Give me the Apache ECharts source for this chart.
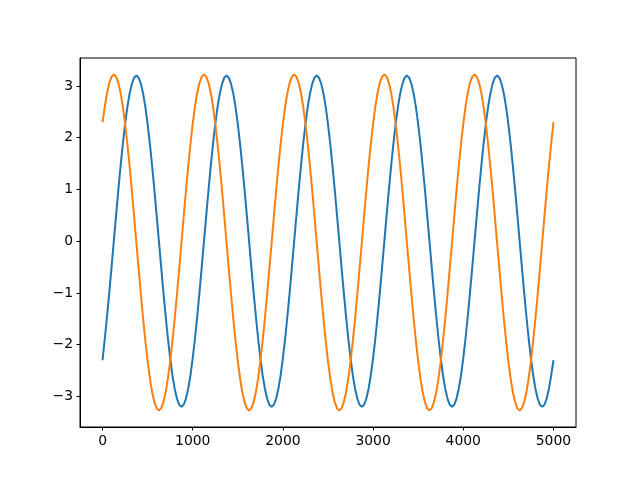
<!DOCTYPE html>
<html>
<head>
<meta charset="utf-8">
<script src="https://cdn.jsdelivr.net/npm/echarts@6/dist/echarts.min.js"></script>
<style>html,body{margin:0;padding:0;background:#fff}#c{width:640px;height:480px}</style>
</head>
<body>
<div id="c"></div>
<script>
// sample positions: x = xStart + i * xStep
const xStart = 0;
const xStep = 25;
const xTicks = [0, 1000, 2000, 3000, 4000, 5000];
const yTicks = [-3, -2, -1, 0, 1, 2, 3];

const blueValues = [
-2.30,-1.88,-1.45,-0.99,-0.50,0.00,0.50,0.99,1.45,1.88,2.26,2.59,2.85,3.04,3.16,3.20,3.16,3.04,2.85,2.59,
2.26,1.88,1.45,0.99,0.50,0.00,-0.50,-0.99,-1.45,-1.88,-2.26,-2.59,-2.85,-3.04,-3.16,-3.20,-3.16,-3.04,-2.85,-2.59,
-2.26,-1.88,-1.45,-0.99,-0.50,0.00,0.50,0.99,1.45,1.88,2.26,2.59,2.85,3.04,3.16,3.20,3.16,3.04,2.85,2.59,
2.26,1.88,1.45,0.99,0.50,0.00,-0.50,-0.99,-1.45,-1.88,-2.26,-2.59,-2.85,-3.04,-3.16,-3.20,-3.16,-3.04,-2.85,-2.59,
-2.26,-1.88,-1.45,-0.99,-0.50,0.00,0.50,0.99,1.45,1.88,2.26,2.59,2.85,3.04,3.16,3.20,3.16,3.04,2.85,2.59,
2.26,1.88,1.45,0.99,0.50,0.00,-0.50,-0.99,-1.45,-1.88,-2.26,-2.59,-2.85,-3.04,-3.16,-3.20,-3.16,-3.04,-2.85,-2.59,
-2.26,-1.88,-1.45,-0.99,-0.50,0.00,0.50,0.99,1.45,1.88,2.26,2.59,2.85,3.04,3.16,3.20,3.16,3.04,2.85,2.59,
2.26,1.88,1.45,0.99,0.50,0.00,-0.50,-0.99,-1.45,-1.88,-2.26,-2.59,-2.85,-3.04,-3.16,-3.20,-3.16,-3.04,-2.85,-2.59,
-2.26,-1.88,-1.45,-0.99,-0.50,0.00,0.50,0.99,1.45,1.88,2.26,2.59,2.85,3.04,3.16,3.20,3.16,3.04,2.85,2.59,
2.26,1.88,1.45,0.99,0.50,0.00,-0.50,-0.99,-1.45,-1.88,-2.26,-2.59,-2.85,-3.04,-3.16,-3.20,-3.16,-3.04,-2.85,-2.59,
-2.30
];

const orangeValues = [
2.30,2.60,2.87,3.06,3.18,3.22,3.18,3.06,2.87,2.60,2.27,1.88,1.45,0.98,0.48,-0.03,-0.53,-1.03,-1.50,-1.93,
-2.32,-2.65,-2.92,-3.11,-3.23,-3.27,-3.23,-3.11,-2.92,-2.65,-2.32,-1.93,-1.50,-1.03,-0.53,-0.03,0.48,0.98,1.45,1.88,
2.27,2.60,2.87,3.06,3.18,3.22,3.18,3.06,2.87,2.60,2.27,1.88,1.45,0.98,0.48,-0.03,-0.53,-1.03,-1.50,-1.93,
-2.32,-2.65,-2.92,-3.11,-3.23,-3.27,-3.23,-3.11,-2.92,-2.65,-2.32,-1.93,-1.50,-1.03,-0.53,-0.03,0.48,0.98,1.45,1.88,
2.27,2.60,2.87,3.06,3.18,3.22,3.18,3.06,2.87,2.60,2.27,1.88,1.45,0.98,0.48,-0.03,-0.53,-1.03,-1.50,-1.93,
-2.32,-2.65,-2.92,-3.11,-3.23,-3.27,-3.23,-3.11,-2.92,-2.65,-2.32,-1.93,-1.50,-1.03,-0.53,-0.03,0.48,0.98,1.45,1.88,
2.27,2.60,2.87,3.06,3.18,3.22,3.18,3.06,2.87,2.60,2.27,1.88,1.45,0.98,0.48,-0.03,-0.53,-1.03,-1.50,-1.93,
-2.32,-2.65,-2.92,-3.11,-3.23,-3.27,-3.23,-3.11,-2.92,-2.65,-2.32,-1.93,-1.50,-1.03,-0.53,-0.03,0.48,0.98,1.45,1.88,
2.27,2.60,2.87,3.06,3.18,3.22,3.18,3.06,2.87,2.60,2.27,1.88,1.45,0.98,0.48,-0.03,-0.53,-1.03,-1.50,-1.93,
-2.32,-2.65,-2.92,-3.11,-3.23,-3.27,-3.23,-3.11,-2.92,-2.65,-2.32,-1.93,-1.50,-1.03,-0.53,-0.03,0.48,0.98,1.45,1.88,
2.30
];

function pairs(vals) { return vals.map((v, i) => [xStart + i * xStep, v]); }
const fmt = v => String(v).replace('-', '\u2212');
const font = 'DejaVu Sans';

const chart = echarts.init(document.getElementById('c'), null, { renderer: 'canvas' });
chart.setOption({
  animation: false,
  backgroundColor: '#fff',
  grid: { left: 80, right: 64, top: 58, bottom: 53, show: true, borderColor: '#000', borderWidth: 1, backgroundColor: 'transparent' },
  xAxis: {
    type: 'value', min: -250, max: 5250,
    axisLine: { show: true, onZero: false, lineStyle: { color: '#000', width: 1 } },
    axisTick: { show: true, length: 3.5, lineStyle: { color: '#000', width: 1 }, customValues: xTicks },
    axisLabel: { customValues: xTicks, formatter: fmt, color: '#000', fontSize: 13.9, fontFamily: font, margin: 7 },
    splitLine: { show: false }
  },
  yAxis: {
    type: 'value', min: -3.59, max: 3.54,
    axisLine: { show: true, onZero: false, lineStyle: { color: '#000', width: 1 } },
    axisTick: { show: true, length: 3.5, lineStyle: { color: '#000', width: 1 }, customValues: yTicks },
    axisLabel: { customValues: yTicks, formatter: fmt, color: '#000', fontSize: 13.9, fontFamily: font, margin: 7 },
    splitLine: { show: false }
  },
  series: [
    { type: 'line', data: pairs(blueValues), showSymbol: false, lineStyle: { color: '#1f77b4', width: 2 }, itemStyle: { color: '#1f77b4' } },
    { type: 'line', data: pairs(orangeValues), showSymbol: false, lineStyle: { color: '#ff7f0e', width: 2 }, itemStyle: { color: '#ff7f0e' } }
  ]
});
</script>
</body>
</html>
